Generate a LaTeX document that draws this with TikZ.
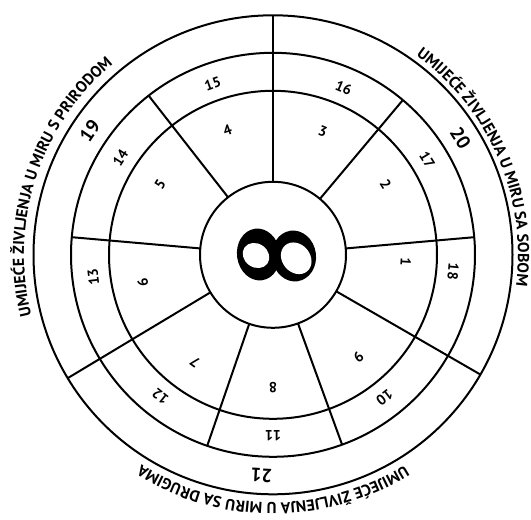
\documentclass[tikz,border=0pt]{standalone}
\usepackage{fontspec}
\setmainfont{PT Sans}
\usetikzlibrary{decorations.text,calc}
\begin{document}
\begin{tikzpicture}[x=1pt,y=1pt,
  ringline/.style={line width=2pt},
  ring/.style={circle, draw, line width=2pt, inner sep=0pt, outer sep=0pt},
  num/.style={font=\bfseries\fontsize{14.5}{14.5}\selectfont, inner sep=0pt},
  bignum/.style={font=\bfseries\fontsize{19}{19}\selectfont, inner sep=0pt},
  arctext/.style={decorate, decoration={text along path, text align=center,
     text={|\bfseries\fontsize{15.8}{15.8}\selectfont|#1}}}
]
\useasboundingbox (0,0) rectangle (531,520);
\coordinate (c) at (273,265.2);
\node[ring, minimum size=479pt] (outer) at (c) {};
\node[ring, minimum size=404pt] (mid) at (c) {};
\node[ring, minimum size=328pt] (ring3) at (c) {};
\node[ring, fill=white, minimum size=146pt] (inner) at (c) {};
% spokes
\foreach \a in {128,175,251,290,5,50}
  \draw[ringline] (inner.\a) -- (mid.\a);
\foreach \a in {90,211,330}
  \draw[ringline] (inner.\a) -- (outer.\a);
% inner ring labels
\foreach \a/\t in {357/1,32/2,68/3,110/4,148/5,192/6,234/7,270/8,310/9}
  \node[num, rotate=\a-90] (n\t) at ($(c)+(\a:133)$) {\t};
% middle ring labels
\foreach \a/\t in {308/10,270/11,231.5/12,187/13,147.5/14,109.5/15,67/16,31.5/17,354.7/18}
  \node[num, rotate=\a-90] (n\t) at ($(c)+(\a:181)$) {\t};
% outer ring labels
\foreach \a/\t in {146/19,32/20,267/21}
  \node[bignum, rotate=\a-90] (n\t) at ($(c)+(\a:221)$) {\t};
% arc texts
\path[arctext={UMIJEĆE ŽIVLJENJA U MIRU S PRIRODOM}]
  ($(c)+(220:249)$) arc[start angle=220, end angle=104, radius=249];
\path[arctext={UMIJEĆE ŽIVLJENJA U MIRU SA SOBOM}]
  ($(c)+(85:245)$) arc[start angle=85, end angle=-38, radius=245];
\path[arctext={UMIJEĆE ŽIVLJENJA U MIRU SA DRUGIMA}]
  ($(c)+(330:248)$) arc[start angle=330, end angle=210, radius=248];
% infinity sign
\begin{scope}[shift={(277,265)}]
  \fill[black, rotate around={8:(-18.5,0.5)}] (-18.5,0.5) ellipse[x radius=21.5, y radius=26];
  \fill[black, rotate around={8:(17,-1)}] (17,-1) ellipse[x radius=22, y radius=25.5];
  \fill[white, rotate around={-35:(-21,-0.5)}] (-21,-0.5) ellipse[x radius=14, y radius=11.8];
  \fill[white, rotate around={-50:(19.2,-3.3)}] (19.2,-3.3) ellipse[x radius=17, y radius=14];
\end{scope}
\end{tikzpicture}
\end{document}
